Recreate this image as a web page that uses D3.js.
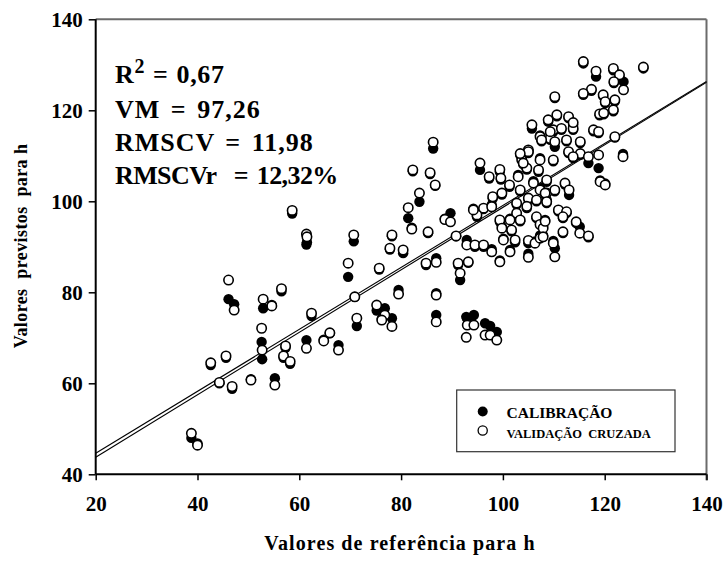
<!DOCTYPE html>
<html>
<head>
<meta charset="utf-8">
<script src="https://cdn.jsdelivr.net/npm/d3@7"></script>
<style>
  html, body { margin: 0; padding: 0; background: #fff; }
  svg { display: block; }
  text { font-family: "Liberation Serif", "Times New Roman", serif; font-weight: bold; fill: #000; }
</style>
</head>
<body>
<svg id="chart" width="725" height="561"></svg>
<script>
// Reference value of h for each sample, with its calibration and cross-validation prediction
const refValues = [
  38.8, 40.0, 42.6, 45.6, 44.3, 46.8, 50.5, 55.2, 52.6, 52.7,
  56.9, 57.3, 58.2, 61.4, 64.8, 66.0, 67.7, 62.4, 70.9, 71.3,
  46.1, 47.2, 52.9, 54.6, 56.5, 58.6, 61.4, 61.5,
  86.3, 82.3, 85.7, 86.7, 83.6, 81.4, 82.1, 85.3, 88.6, 89.7,
  90.8, 70.7, 69.6, 78.2, 77.8, 80.4, 75.7, 79.5, 75.2, 76.8,
  78.2, 76.2, 84.9, 86.9, 86.9, 86.9, 92.8, 93.0, 94.3, 96.5,
  97.5, 98.8, 91.6, 91.2, 93.2, 92.9, 94.5, 96.2, 97.8, 99.4,
  101.4, 100.1, 102.4, 101.7, 105.0, 105.0, 106.3, 107.3, 109.9, 110.2,
  95.5, 97.3, 99.4, 99.6, 101.3, 103.0, 98.0, 96.2, 94.9, 97.8,
  99.8, 103.4, 105.0, 105.7, 107.3, 103.7, 104.7, 107.3, 108.9, 109.9,
  109.3, 107.0, 108.6, 106.0, 107.3, 105.0, 104.7, 102.7, 102.7, 103.4,
  101.4, 99.4, 99.8, 106.6, 107.3, 107.9, 108.6, 110.2, 109.9, 106.6,
  94.2,
  115.8, 118.3, 121.7, 122.9, 123.7, 121.8, 127.6, 117.4, 115.8, 110.2,
  119.7, 120.1, 122.0, 121.7, 119.0, 117.8, 118.8, 122.0, 110.6, 112.9,
  109.3, 111.5, 113.8, 107.6, 110.2, 112.5, 115.2, 112.9, 115.2, 123.6,
  116.8, 118.8, 119.1, 120.1, 112.2, 113.0, 108.3, 108.6, 110.9, 112.5,
  111.8, 114.4, 115.1, 116.8, 111.8, 108.3, 107.9, 113.8, 105.0, 103.4,
  104.0, 119.8, 113.8
];
const calValues = [
  48.0, 46.8, 64.0, 65.6, 60.0, 58.8, 60.9, 61.1, 69.1, 65.3,
  65.6, 67.8, 64.3, 69.5, 69.6, 71.0, 68.4, 74.8, 79.0, 72.6,
  78.5, 77.4, 76.5, 77.2, 80.2, 97.3, 90.5, 91.0,
  111.6, 106.6, 106.0, 103.4, 99.9, 96.3, 94.2, 93.0, 96.2, 97.4,
  92.3, 91.2, 83.4, 92.3, 89.4, 88.6, 85.0, 80.5, 76.0, 76.5,
  74.3, 74.2, 86.0, 87.5, 79.8, 75.0, 74.6, 74.2, 75.0, 73.2,
  72.6, 71.3, 82.7, 86.0, 86.5, 91.5, 90.0, 90.0, 89.5, 87.0,
  89.3, 91.8, 91.0, 93.4, 88.5, 90.8, 91.2, 92.5, 91.3, 89.7,
  106.9, 105.0, 106.5, 104.8, 103.2, 105.8, 100.6, 98.3, 96.6, 99.2,
  101.5, 102.2, 111.0, 116.0, 114.5, 109.5, 107.0, 109.5, 117.5, 115.3,
  113.5, 106.5, 104.3, 104.4, 102.9, 100.4, 98.5, 99.3, 97.1, 95.6,
  96.2, 95.5, 94.4, 96.3, 95.5, 94.4, 100.3, 102.2, 108.8, 100.0,
  98.4,
  130.3, 127.4, 128.8, 127.4, 126.3, 126.0, 129.2, 124.3, 123.4, 122.7,
  123.1, 121.6, 122.0, 119.8, 118.9, 115.4, 115.0, 114.0, 118.7, 118.3,
  115.0, 115.7, 115.7, 113.2, 112.0, 113.2, 112.8, 110.6, 110.2, 110.4,
  108.4, 107.3, 104.6, 103.9, 103.7, 101.4, 101.5, 99.6, 97.8, 97.4,
  96.3, 95.2, 94.4, 92.1, 93.0, 95.9, 92.5, 109.5, 110.6, 110.2,
  108.1, 119.1, 116.8
];
const valValues = [
  49.0, 46.4, 64.5, 66.0, 60.2, 59.3, 60.7, 59.6, 72.1, 67.3,
  66.0, 68.2, 64.8, 67.7, 69.3, 71.1, 67.3, 75.4, 79.0, 74.3,
  82.7, 76.1, 78.5, 77.0, 80.8, 98.0, 92.8, 92.2,
  113.0, 106.9, 106.3, 103.6, 101.8, 98.6, 93.9, 93.3, 96.0, 95.5,
  92.4, 92.6, 86.4, 92.6, 89.7, 89.3, 85.3, 79.6, 77.2, 75.0,
  72.5, 73.9, 86.4, 86.6, 79.4, 73.5, 70.1, 72.8, 72.8, 70.6,
  70.6, 69.5, 84.2, 86.4, 86.7, 90.4, 90.4, 90.4, 88.9, 86.7,
  88.9, 91.5, 91.5, 93.7, 87.7, 91.4, 90.8, 91.9, 90.8, 87.8,
  108.4, 105.4, 107.0, 105.1, 103.6, 105.4, 101.0, 98.5, 97.0, 98.8,
  101.8, 102.5, 111.3, 116.8, 114.2, 109.1, 107.3, 109.1, 117.9, 115.7,
  113.8, 106.9, 104.7, 104.0, 102.5, 100.7, 98.9, 99.6, 97.4, 95.9,
  95.9, 95.9, 94.1, 96.6, 94.9, 94.1, 101.8, 102.5, 109.1, 100.3,
  98.1,
  130.7, 128.6, 129.2, 127.8, 124.5, 126.3, 129.5, 124.6, 123.7, 123.0,
  123.4, 121.9, 122.3, 120.1, 119.2, 115.7, 115.3, 114.2, 119.0, 118.6,
  115.3, 116.0, 116.0, 113.5, 113.1, 113.5, 113.1, 110.9, 110.5, 109.8,
  109.8, 110.2, 104.3, 103.6, 104.0, 102.5, 101.8, 99.9, 98.1, 97.7,
  96.6, 95.5, 93.0, 92.4, 93.3, 95.6, 92.2, 109.8, 110.9, 110.5,
  108.4, 119.4, 117.3
];

// Fitted lines (intercept, slope) for calibration and cross-validation
const fitNames = ["calibração", "validação cruzada"];
const fitIntercepts = [30.0, 31.0];
const fitSlopes = [0.6867, 0.6808];

const xTicks = [20, 40, 60, 80, 100, 120, 140];
const yTicks = [40, 60, 80, 100, 120, 140];
const statLines = ["VM = 97,26", "RMSCV = 11,98", "RMSCVr  = 12,32%"];
const legendLabels = ["CALIBRAÇÃO", "VALIDAÇÃO  CRUZADA"];

const samples = refValues.map((r, i) => ({ ref: r, cal: calValues[i], val: valValues[i] }));

const svg = d3.select("#chart");
const x = d3.scaleLinear().domain([20, 140]).range([95.7, 706.5]);
const y = d3.scaleLinear().domain([40, 140]).range([474.3, 19.3]);

// Plot frame: top and right edges
svg.append("line").attr("x1", x(20)).attr("x2", x(140)).attr("y1", y(140)).attr("y2", y(140))
  .attr("stroke", "#6b6b6b").attr("stroke-width", 2);
svg.append("line").attr("x1", x(140)).attr("x2", x(140)).attr("y1", y(140)).attr("y2", y(40) + 6)
  .attr("stroke", "#6b6b6b").attr("stroke-width", 2);

// Axes
const yAxis = svg.append("g").attr("transform", `translate(${x(20)},0)`)
  .call(d3.axisLeft(y).tickValues(yTicks).tickSize(7).tickPadding(6).tickSizeOuter(0));
const xAxis = svg.append("g").attr("transform", `translate(0,${y(40)})`)
  .call(d3.axisBottom(x).tickValues(xTicks).tickSize(6).tickPadding(16).tickSizeOuter(0));
[xAxis, yAxis].forEach(g => {
  g.select(".domain").attr("stroke", "#000").attr("stroke-width", 2);
  g.selectAll(".tick line").attr("stroke", "#000").attr("stroke-width", 1.5);
  g.selectAll(".tick text").style("font-family", '"Liberation Serif", "Times New Roman", serif')
    .style("font-weight", "bold").style("font-size", "21px").attr("fill", "#000");
});
yAxis.select(".domain").attr("d", `M0,${y(140)}V${y(40)}`);
xAxis.select(".domain").attr("d", `M${x(20)},0H${x(140)}`);

// Regression lines
const fits = fitNames.map((n, i) => ({ name: n, a: fitIntercepts[i], b: fitSlopes[i] }));
svg.append("g").selectAll("line").data(fits).join("line")
  .attr("x1", x(20)).attr("x2", x(140))
  .attr("y1", d => y(d.a + d.b * 20)).attr("y2", d => y(d.a + d.b * 140))
  .attr("stroke", "#000").attr("stroke-width", 1.1);

// Points: calibration (filled) beneath cross-validation (open)
svg.append("g").selectAll("circle").data(samples).join("circle")
  .attr("cx", d => x(d.ref)).attr("cy", d => y(d.cal)).attr("r", 5.2)
  .attr("fill", "#000");
svg.append("g").selectAll("circle").data(samples).join("circle")
  .attr("cx", d => x(d.ref)).attr("cy", d => y(d.val)).attr("r", 4.7)
  .attr("fill", "#fff").attr("stroke", "#000").attr("stroke-width", 1.6);

// Statistics block
const r2 = svg.append("text").attr("x", 115).attr("y", 83)
  .style("font-size", "26px").style("letter-spacing", "0.6px").style("word-spacing", "1px");
r2.append("tspan").text("R");
r2.append("tspan").attr("dy", -10).style("font-size", "20px").text("2");
r2.append("tspan").attr("dy", 10).text(" = 0,67");
svg.append("g").selectAll("text").data(statLines).join("text")
  .attr("x", 115).attr("y", (d, i) => 118 + i * 33)
  .style("font-size", "26px").style("white-space", "pre")
  .style("letter-spacing", (d, i) => i === 2 ? "-0.6px" : "1px")
  .style("word-spacing", "3px")
  .text(d => d);

// Axis titles
svg.append("text").attr("x", 400).attr("y", 550).attr("text-anchor", "middle")
  .style("font-size", "20px").style("letter-spacing", "1.1px").text("Valores de referência para h");
svg.append("text").attr("transform", "translate(27,246) rotate(-90)").attr("text-anchor", "middle")
  .style("font-size", "18px").style("letter-spacing", "0.4px").style("white-space", "pre")
  .text("Valores  previstos  para h");

// Legend
const legend = svg.append("g");
legend.append("rect").attr("x", 456.7).attr("y", 390).attr("width", 218.3).attr("height", 61.7)
  .attr("fill", "#fff").attr("stroke", "#333").attr("stroke-width", 1.2);
legend.append("circle").attr("cx", 482.7).attr("cy", 411.5).attr("r", 5).attr("fill", "#000");
legend.append("circle").attr("cx", 482.7).attr("cy", 430.5).attr("r", 4.6)
  .attr("fill", "#fff").attr("stroke", "#000").attr("stroke-width", 1.3);
legend.append("text").attr("x", 506.5).attr("y", 418).style("font-size", "15.5px").text(legendLabels[0]);
legend.append("text").attr("x", 506.5).attr("y", 438).style("font-size", "12.5px")
  .style("white-space", "pre").text(legendLabels[1]);
</script>
</body>
</html>
